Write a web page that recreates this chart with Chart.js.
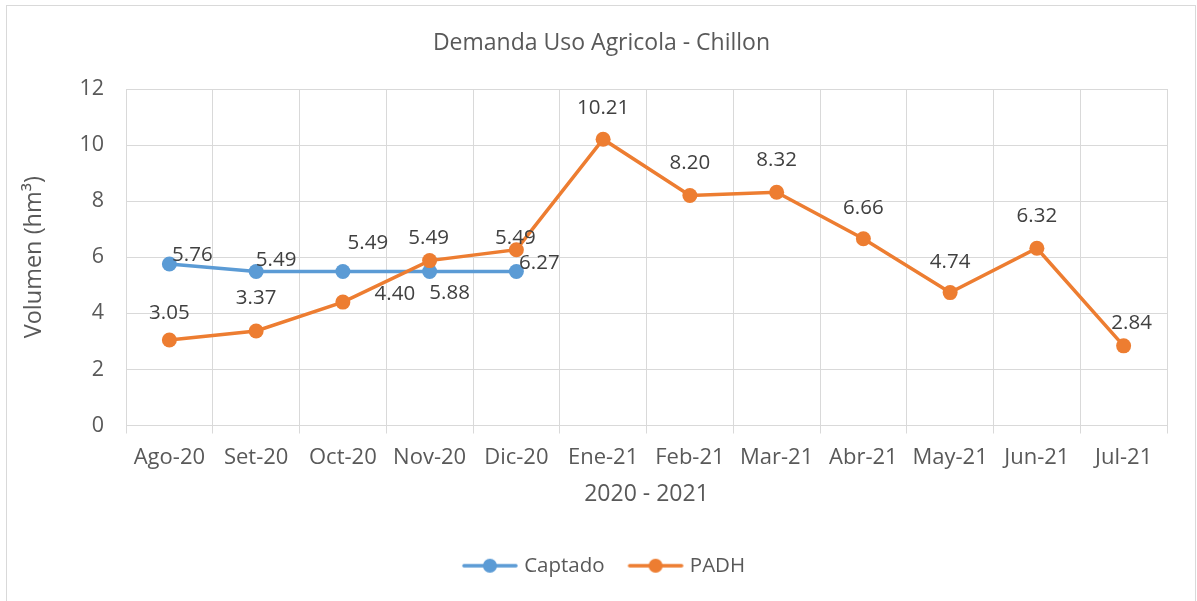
<!DOCTYPE html>
<html><head><meta charset="utf-8">
<script src="https://cdn.jsdelivr.net/npm/chart.js@4.4.1/dist/chart.umd.min.js"></script>
<style>html,body{margin:0;padding:0;background:#fff;}#wrap{width:1197px;height:601px;}</style>
</head><body><div id="wrap"><canvas id="c" width="1197" height="601"></canvas></div>
<script>
const categories = ['Ago-20','Set-20','Oct-20','Nov-20','Dic-20','Ene-21','Feb-21','Mar-21','Abr-21','May-21','Jun-21','Jul-21'];
const captado = [5.76, 5.49, 5.49, 5.49, 5.49, null, null, null, null, null, null, null];
const padh = [3.05, 3.37, 4.40, 5.88, 6.27, 10.21, 8.20, 8.32, 6.66, 4.74, 6.32, 2.84];
const yTicks = [0, 2, 4, 6, 8, 10, 12];
const seriesNames = ['Captado', 'PADH'];

const FONT = "'Open Sans', 'DejaVu Sans', sans-serif";
const BLUE = '#5B9BD5', ORANGE = '#ED7D31';
const TXT = '#595959';

// label offsets (styling only): [dx, dy] per point
const labelOffsets = [
  [[23,-9],[20,-11],[25,-28],[-1,-33],[-1,-33]],
  [[0,-27],[0,-33],[52,-8],[20,33],[23,13],[0,-31],[0,-32],[0,-32],[0,-31],[0,-30],[0,-32],[8,-23]]
];

function legendIcon(color) {
  const c = document.createElement('canvas');
  c.width = 58; c.height = 16;
  const g = c.getContext('2d');
  g.strokeStyle = color; g.lineWidth = 3.5; g.lineCap = 'round';
  g.beginPath(); g.moveTo(3, 8); g.lineTo(55, 8); g.stroke();
  g.fillStyle = color; g.beginPath(); g.arc(29, 8, 7, 0, Math.PI * 2); g.fill();
  return c;
}
const icons = [legendIcon(BLUE), legendIcon(ORANGE)];

const borderPlugin = {
  id: 'outerBorder',
  afterLayout(chart) {
    // Excel centres title and legend on the whole chart box, not the padded area
    if (chart.titleBlock) { chart.titleBlock.left += 14; chart.titleBlock.right += 14; }
    if (chart.legend) { chart.legend.left += 18; chart.legend.right += 18; }
  },
  beforeDraw(chart) {
    const ctx = chart.ctx;
    ctx.save();
    ctx.fillStyle = '#fff';
    ctx.fillRect(0, 0, chart.width, chart.height);
    ctx.strokeStyle = '#d9d9d9';
    ctx.lineWidth = 1;
    ctx.strokeRect(6.5, 5.5, 1189, 610);
    ctx.restore();
  }
};

const labelPlugin = {
  id: 'pointLabels',
  afterDatasetsDraw(chart) {
    const ctx = chart.ctx;
    ctx.save();
    ctx.font = '20.5px ' + FONT;
    ctx.fillStyle = '#404040';
    ctx.textAlign = 'center';
    ctx.textBaseline = 'middle';
    chart.data.datasets.forEach((ds, di) => {
      const meta = chart.getDatasetMeta(di);
      meta.data.forEach((pt, i) => {
        const v = ds.data[i];
        if (v === null || v === undefined) return;
        const off = labelOffsets[di][i] || [0, -32];
        ctx.fillText(v.toFixed(2), pt.x + off[0], pt.y + off[1]);
      });
    });
    ctx.restore();
  }
};

new Chart(document.getElementById('c'), {
  type: 'line',
  data: {
    labels: categories,
    datasets: [
      { label: seriesNames[0], data: captado, borderColor: BLUE, backgroundColor: BLUE,
        borderWidth: 3.5, pointRadius: 7.5, pointBorderWidth: 0, pointBackgroundColor: BLUE,
        tension: 0, order: 2, spanGaps: false },
      { label: seriesNames[1], data: padh, borderColor: ORANGE, backgroundColor: ORANGE,
        borderWidth: 3.5, pointRadius: 7.5, pointBorderWidth: 0, pointBackgroundColor: ORANGE,
        tension: 0, order: 1 }
    ]
  },
  options: {
    responsive: false,
    animation: false,
    devicePixelRatio: 1,
    layout: { padding: { left: 8, right: 30, top: 0, bottom: 15 } },
    plugins: {
      tooltip: { enabled: false },
      title: {
        display: true, text: 'Demanda Uso Agricola - Chillon', color: TXT,
        font: { family: FONT, size: 23, weight: 'normal' },
        padding: { top: 30, bottom: 31.4 }
      },
      legend: {
        position: 'bottom',
        labels: {
          color: TXT, font: { family: FONT, size: 20.5 },
          usePointStyle: true, pointStyleWidth: 48, boxHeight: 16, padding: 27,
          sort: (a, b) => a.datasetIndex - b.datasetIndex,
          generateLabels(chart) {
            return chart.data.datasets.map((ds, i) => ({
              text: ds.label, datasetIndex: i, pointStyle: icons[i],
              fillStyle: ds.borderColor, strokeStyle: ds.borderColor, lineWidth: 0,
              fontColor: TXT, hidden: false
            }));
          }
        }
      }
    },
    scales: {
      x: {
        offset: true,
        grid: { color: '#d9d9d9', offset: true, tickLength: 8, tickColor: '#d9d9d9' },
        border: { color: '#d9d9d9' },
        ticks: { color: TXT, font: { family: FONT, size: 22 }, padding: 11, maxRotation: 0, autoSkip: false },
        title: { display: true, text: '2020 - 2021', color: TXT, font: { family: FONT, size: 23 }, padding: { top: 0, bottom: 20 } },
        afterFit(scale) { scale.height = 103; }
      },
      y: {
        min: 0, max: 12,
        afterBuildTicks(scale) { scale.ticks = yTicks.map(v => ({ value: v })); },
        grid: { color: '#d9d9d9', drawTicks: false },
        border: { display: false },
        ticks: { color: TXT, font: { family: FONT, size: 21.5 }, padding: 22 },
        title: { display: true, text: 'Volumen (hm³)', color: TXT, font: { family: FONT, size: 23.5 }, padding: { top: 12, bottom: 0 } },
        afterFit(scale) { scale.width = 118; }
      }
    }
  },
  plugins: [borderPlugin, labelPlugin]
});
</script></body></html>
